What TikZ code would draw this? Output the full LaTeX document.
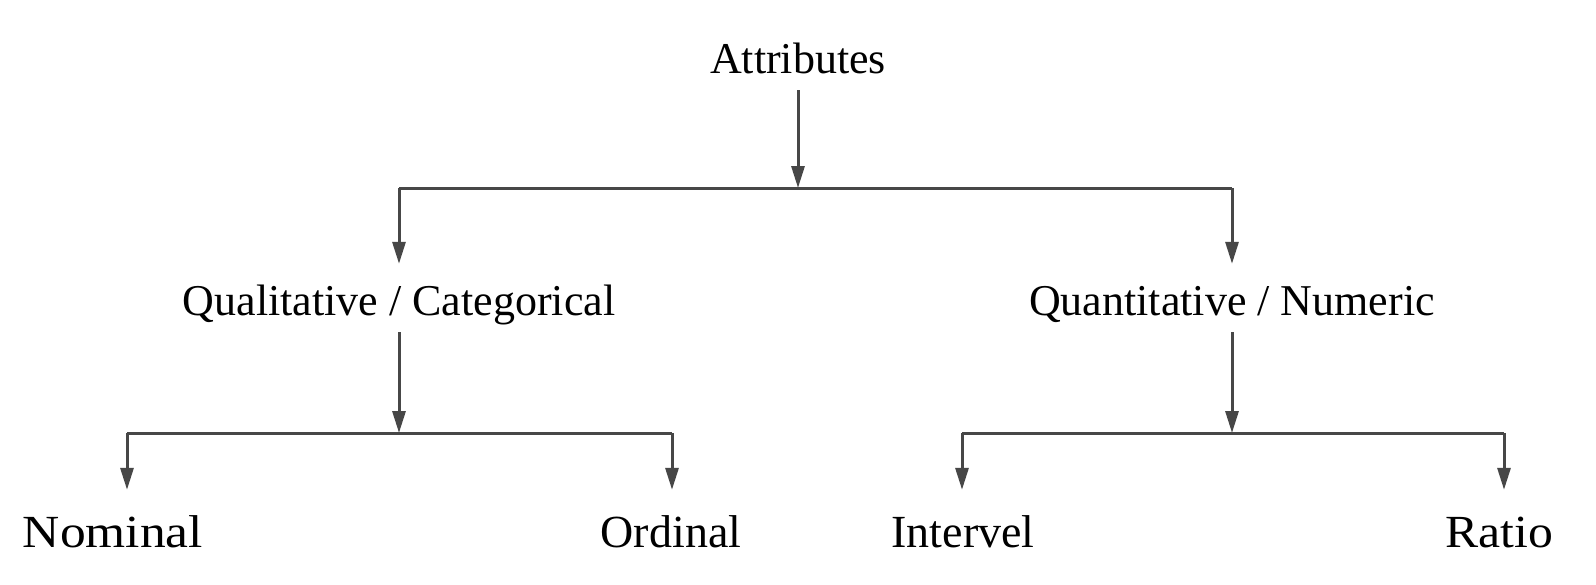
\documentclass[tikz,border=0pt]{standalone}
\usepackage{fontspec}
\setmainfont{Liberation Serif}
\usetikzlibrary{arrows.meta,calc}
\begin{document}
\begin{tikzpicture}[x=0.5pt,y=-0.5pt,
  lbl/.style={anchor=base,inner sep=0pt,outer sep=0pt,text height=14.6pt,text depth=0pt,
    font=\fontsize{22}{26}\selectfont},
  blbl/.style={lbl,font=\fontsize{23}{27}\selectfont},
  ln/.style={draw=black!72,line width=1.5pt},
  arr/.style={ln,-{Triangle[length=11pt,width=6.5pt]}}]
\useasboundingbox[fill=white] (0,0) rectangle (1596,584);
% nodes
\node[lbl] (attr)  at (798,73)  {Attributes};
\node[lbl] (qual)  at (399,315) {Qualitative / Categorical};
\node[lbl] (quant) at (1232,315){Quantitative / Numeric};
\node[blbl,xscale=1.12] (nom) at (113,547) {Nominal};
\node[blbl] (ord)   at (671,547) {Ordinal};
\node[blbl] (int)   at (963,547) {Intervel};
\node[blbl,xscale=1.08] (ratio) at (1499,547){Ratio};
% junctions
\coordinate (j0)  at (798,188);
\coordinate (j0l) at (399,188);
\coordinate (j0r) at (1232,188);
\coordinate (j1)  at (399,433);
\coordinate (j1l) at (127,433);
\coordinate (j1r) at (672,433);
\coordinate (j2)  at (1232,433);
\coordinate (j2l) at (962,433);
\coordinate (j2r) at (1504,433);
% top level
\draw[arr,shorten <=8.5pt] (attr.south) -- (j0);
\draw[ln] (j0l) -- (j0r);
\draw[arr,shorten >=11pt] (j0l) -- (qual.north);
\draw[arr,shorten >=11pt] (j0r) -- (quant.north);
% second level
\draw[arr,shorten <=8.5pt] (qual.south) -- (j1);
\draw[arr,shorten <=8.5pt] (quant.south) -- (j2);
\draw[ln] (j1l) -- (j1r);
\draw[ln] (j2l) -- (j2r);
\draw[arr,shorten >=14pt] (j1l) -- (j1l |- nom.north);
\draw[arr,shorten >=14pt] (j1r) -- (j1r |- ord.north);
\draw[arr,shorten >=14pt] (j2l) -- (j2l |- int.north);
\draw[arr,shorten >=14pt] (j2r) -- (j2r |- ratio.north);
\end{tikzpicture}
\end{document}
